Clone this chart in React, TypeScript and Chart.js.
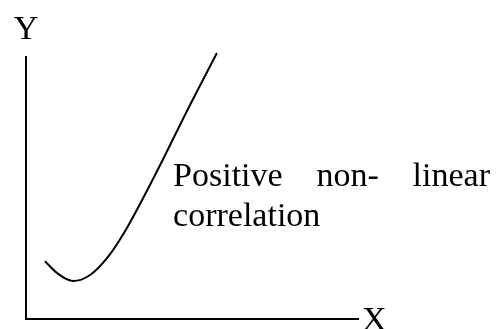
import React, { useEffect, useRef } from "react";
import { Chart, registerables } from "chart.js";

Chart.register(...registerables);

// Curve samples (x, y) in axis units: a dip near the origin, then a steep rise
const curveX = [0.57, 0.93, 1.42, 1.93, 2.47, 2.95, 3.89, 4.94, 5.75];
const curveY = [2.21, 1.76, 1.45, 1.68, 2.37, 3.28, 5.5, 8.17, 10.15];

const axisXLabel = "X";
const axisYLabel = "Y";
const noteLine1 = ["Positive", "non-", "linear"];
const noteLine2 = "correlation";

const FONT = '34px "Liberation Serif", "Times New Roman", serif';

const labelsPlugin = {
  id: "sketchLabels",
  afterDraw(chart: any) {
    const { ctx, chartArea, scales } = chart;
    ctx.save();
    ctx.fillStyle = "#000";
    ctx.font = FONT;
    ctx.textBaseline = "alphabetic";

    // Axis names
    ctx.textAlign = "center";
    ctx.fillText(axisYLabel, chartArea.left, chartArea.top - 18);
    ctx.textAlign = "left";
    ctx.fillText(axisXLabel, chartArea.right + 4, chartArea.bottom + 11);

    // Justified two-line note beside the curve
    const left = scales.x.getPixelForValue(4.43);
    const right = chart.width - 7;
    const base1 = scales.y.getPixelForValue(5.08);
    const widths = noteLine1.map((w) => ctx.measureText(w).width);
    const total = widths.reduce((a, b) => a + b, 0);
    const gap = (right - left - total) / (noteLine1.length - 1);
    let x = left;
    noteLine1.forEach((w, i) => {
      ctx.fillText(w, x, base1);
      x += widths[i] + gap;
    });
    ctx.fillText(noteLine2, left, base1 + 40);
    ctx.restore();
  },
};

export default function App() {
  const canvasRef = useRef<HTMLCanvasElement | null>(null);

  useEffect(() => {
    const canvas = canvasRef.current;
    if (!canvas) return;
    const data = curveX.map((x, i) => ({ x, y: curveY[i] }));
    const chart = new Chart(canvas, {
      type: "line",
      data: {
        datasets: [
          {
            data,
            borderColor: "#000",
            borderWidth: 2,
            pointRadius: 0,
            cubicInterpolationMode: "monotone",
            fill: false,
            clip: false as any,
          },
        ],
      },
      options: {
        responsive: false,
        animation: false,
        devicePixelRatio: 1,
        layout: { padding: { left: 26, top: 57, right: 139, bottom: 10 } },
        plugins: {
          legend: { display: false },
          tooltip: { enabled: false },
        },
        scales: {
          x: {
            type: "linear",
            min: 0,
            max: 10,
            grid: { display: false, drawTicks: false },
            ticks: { display: false },
            border: { display: true, color: "#000", width: 2 },
            afterFit: (s: any) => {
              s.height = 0;
            },
          },
          y: {
            type: "linear",
            min: 0,
            max: 10,
            grid: { display: false, drawTicks: false },
            ticks: { display: false },
            border: { display: true, color: "#000", width: 2 },
            afterFit: (s: any) => {
              s.width = 0;
            },
          },
        },
      },
      plugins: [labelsPlugin],
    });
    return () => chart.destroy();
  }, []);

  return (
    <div
      style={{
        position: "fixed",
        left: 0,
        top: 0,
        width: 497,
        height: 329,
        background: "#fff",
      }}
    >
      <canvas ref={canvasRef} width={497} height={329} />
    </div>
  );
}
